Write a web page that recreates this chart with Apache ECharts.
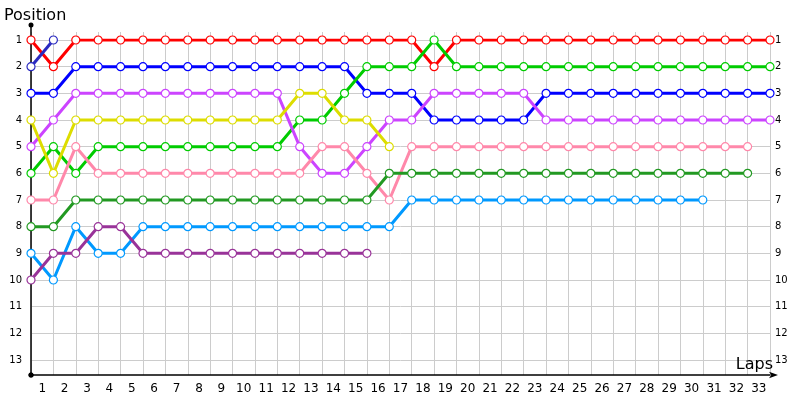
<!DOCTYPE html>
<html>
<head>
<meta charset="utf-8">
<script src="https://cdn.jsdelivr.net/npm/echarts@6/dist/echarts.min.js"></script>
<style>html,body{margin:0;padding:0;background:#fff}#c{width:800px;height:400px}</style>
</head>
<body>
<div id="c"></div>
<script>
// Lap tick labels (shown between lap points)
const lapLabels = ['1','2','3','4','5','6','7','8','9','10','11','12','13','14','15','16','17','18','19','20','21','22','23','24','25','26','27','28','29','30','31','32','33'];
const positionLabels = [1,2,3,4,5,6,7,8,9,10,11,12,13];

// Position per lap (index 0 = start)
const red       = [1,2,1,1,1,1,1,1,1,1,1,1,1,1,1,1,1,1,2,1,1,1,1,1,1,1,1,1,1,1,1,1,1,1];
const blue      = [3,3,2,2,2,2,2,2,2,2,2,2,2,2,2,3,3,3,4,4,4,4,4,3,3,3,3,3,3,3,3,3,3,3];
const green     = [6,5,6,5,5,5,5,5,5,5,5,5,4,4,3,2,2,2,1,2,2,2,2,2,2,2,2,2,2,2,2,2,2,2];
const violet    = [5,4,3,3,3,3,3,3,3,3,3,3,5,6,6,5,4,4,3,3,3,3,3,4,4,4,4,4,4,4,4,4,4,4];
const yellow    = [4,6,4,4,4,4,4,4,4,4,4,4,3,3,4,4,5];
const pink      = [7,7,5,6,6,6,6,6,6,6,6,6,6,5,5,6,7,5,5,5,5,5,5,5,5,5,5,5,5,5,5,5,5];
const darkGreen = [8,8,7,7,7,7,7,7,7,7,7,7,7,7,7,7,6,6,6,6,6,6,6,6,6,6,6,6,6,6,6,6,6];
const lightBlue = [9,10,8,9,9,8,8,8,8,8,8,8,8,8,8,8,8,7,7,7,7,7,7,7,7,7,7,7,7,7,7];
const purple    = [10,9,9,8,8,9,9,9,9,9,9,9,9,9,9,9];
const navy      = [2,1];

const seriesDefs = [
  {name:'red', data:red, color:'#ff0000'},
  {name:'blue', data:blue, color:'#0000ff'},
  {name:'green', data:green, color:'#00cc00'},
  {name:'violet', data:violet, color:'#cc44ff'},
  {name:'yellow', data:yellow, color:'#dddd00'},
  {name:'pink', data:pink, color:'#ff88aa'},
  {name:'darkGreen', data:darkGreen, color:'#229922'},
  {name:'lightBlue', data:lightBlue, color:'#0099ff'},
  {name:'purple', data:purple, color:'#993399'},
  {name:'navy', data:navy, color:'#2a2ac0'}
];

const FONT = 'DejaVu Sans';
const chart = echarts.init(document.getElementById('c'), null, {renderer:'canvas'});
const option = {
  animation: false,
  backgroundColor: '#fff',
  grid: [
    {left:31, right:30, top:40, bottom:40},
    {left:31, right:30, top:32, bottom:25},
    {left:31, right:30, top:25, bottom:25}
  ],
  xAxis: [
    {gridIndex:0, type:'value', min:0, max:33, interval:1, show:false},
    {gridIndex:1, type:'value', min:0, max:33, interval:1,
      axisLine:{show:true, lineStyle:{color:'#000', width:1.5}, symbol:['circle','arrow'], symbolSize:[5,9], symbolOffset:[0,8]},
      axisTick:{show:false}, axisLabel:{show:false},
      splitLine:{show:true, lineStyle:{color:'#cccccc', width:1}},
      name:'Laps', nameLocation:'end', nameGap:3,
      nameTextStyle:{fontFamily:FONT, fontSize:16, color:'#000', align:'right', verticalAlign:'bottom', padding:[0,0,2,0]}
    },
    {gridIndex:1, type:'category', data:lapLabels, boundaryGap:true, position:'bottom',
      axisLine:{show:false}, axisTick:{show:false},
      axisLabel:{fontFamily:FONT, fontSize:12, color:'#000', margin:8},
      splitLine:{show:false}
    },
    {gridIndex:2, type:'value', min:0, max:1, show:false}
  ],
  yAxis: [
    {gridIndex:0, type:'value', inverse:true, min:1, max:13, interval:1, position:'left',
      axisLine:{show:false}, axisTick:{show:false},
      axisLabel:{fontFamily:FONT, fontSize:10, color:'#000', margin:9},
      splitLine:{show:true, lineStyle:{color:'#cccccc', width:1}}
    },
    {gridIndex:0, type:'value', inverse:true, min:1, max:13, interval:1, position:'right',
      axisLine:{show:false}, axisTick:{show:false},
      axisLabel:{fontFamily:FONT, fontSize:10, color:'#000', margin:5},
      splitLine:{show:false}
    },
    {gridIndex:1, type:'value', min:0, max:1, show:false},
    {gridIndex:2, type:'value', min:0, max:1, position:'left',
      axisLine:{show:true, lineStyle:{color:'#000', width:1.5}, symbol:['circle','circle'], symbolSize:[5,5]},
      axisTick:{show:false}, axisLabel:{show:false}, splitLine:{show:false},
      name:'Position', nameLocation:'end', nameGap:1,
      nameTextStyle:{fontFamily:FONT, fontSize:16, color:'#000', align:'left', padding:[0,0,0,-27]}
    }
  ],
  series: seriesDefs.map(s => ({
    name: s.name,
    type: 'line',
    xAxisIndex: 0,
    yAxisIndex: 0,
    data: s.data.map((p, k) => [k, p]),
    symbol: 'circle',
    symbolSize: 8,
    showAllSymbol: true,
    lineStyle: {color: s.color, width: 3},
    itemStyle: {color: '#ffffff', borderColor: s.color, borderWidth: 1.2},
    emphasis: {disabled: true},
    silent: true
  }))
};
chart.setOption(option);
</script>
</body>
</html>
